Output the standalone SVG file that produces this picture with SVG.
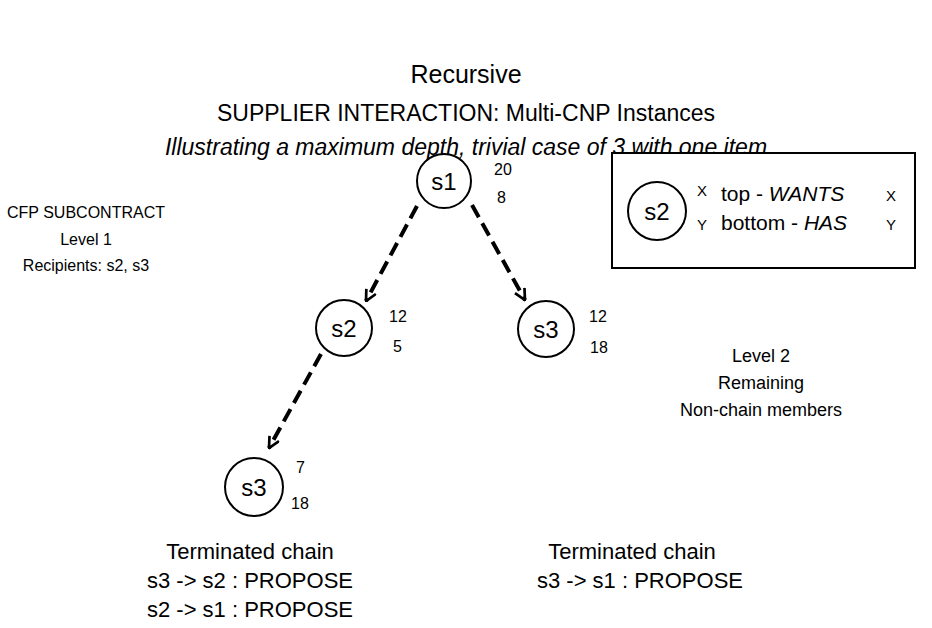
<svg xmlns="http://www.w3.org/2000/svg" width="932" height="628" viewBox="0 0 932 628">
  <style>
    text { font-family: "Liberation Sans", Arial, sans-serif; fill: #000; }
    .title { font-size: 25px; text-anchor: middle; }
    .sub { font-size: 23px; text-anchor: middle; }
    .it { font-style: italic; }
    .note { font-size: 16px; text-anchor: middle; }
    .note2 { font-size: 18px; text-anchor: middle; }
    .chain { font-size: 22px; text-anchor: middle; }
    .node circle { fill: none; stroke: #000; stroke-width: 2; }
    .node .name { font-size: 24px; text-anchor: middle; }
    .node .val { font-size: 16px; }
    .edge { fill: none; stroke: #000; stroke-width: 4; stroke-dasharray: 14 7; }
  </style>
  <defs>
    <marker id="arrow" viewBox="0 0 12 12" refX="11" refY="6" markerWidth="13" markerHeight="13" markerUnits="userSpaceOnUse" orient="auto">
      <path d="M1,1 L11,6 L1,11" fill="none" stroke="#000" stroke-width="2.5"/>
    </marker>
  </defs>

  <!-- headings -->
  <text class="title" x="466" y="83">Recursive</text>
  <text class="sub" x="466" y="121">SUPPLIER INTERACTION: Multi-CNP Instances</text>
  <text class="sub it" x="466" y="155">Illustrating a maximum depth, trivial case of 3 with one item</text>

  <!-- side notes -->
  <text class="note" x="86" y="218">CFP SUBCONTRACT</text>
  <text class="note" x="86" y="245">Level 1</text>
  <text class="note" x="86" y="271">Recipients: s2, s3</text>

  <text class="note2" x="761" y="362">Level 2</text>
  <text class="note2" x="761" y="389">Remaining</text>
  <text class="note2" x="761" y="416">Non-chain members</text>

  <!-- legend -->
  <g id="legend">
    <rect x="612" y="153" width="303" height="115" fill="#fff" stroke="#000" stroke-width="2"/>
    <g class="node">
      <circle cx="657" cy="211" r="29"/>
      <text class="name" x="657" y="220">s2</text>
    </g>
    <text x="697" y="196" font-size="15">X</text>
    <text x="721" y="201" font-size="21">top -  <tspan class="it">WANTS</tspan></text>
    <text x="886" y="201" font-size="15">X</text>
    <text x="697" y="230" font-size="15">Y</text>
    <text x="721" y="230" font-size="21">bottom -  <tspan class="it">HAS</tspan></text>
    <text x="886" y="230" font-size="15">Y</text>
  </g>

  <!-- connectors -->
  <g id="connectors">
    <path class="edge" d="M417,206 L366,301" marker-end="url(#arrow)"/>
    <path class="edge" d="M472,205 L525,300" marker-end="url(#arrow)"/>
    <path class="edge" d="M321,354 L269,448" marker-end="url(#arrow)"/>
  </g>

  <!-- nodes -->
  <g id="s1" class="node">
    <circle cx="444" cy="181" r="27"/>
    <text class="name" x="444" y="190">s1</text>
    <text class="val" x="494" y="175">20</text>
    <text class="val" x="497" y="203">8</text>
  </g>
  <g id="s2" class="node">
    <circle cx="344" cy="328" r="28"/>
    <text class="name" x="344" y="337">s2</text>
    <text class="val" x="389" y="322">12</text>
    <text class="val" x="393" y="352">5</text>
  </g>
  <g id="s3a" class="node">
    <circle cx="546" cy="329" r="28"/>
    <text class="name" x="546" y="338">s3</text>
    <text class="val" x="589" y="322">12</text>
    <text class="val" x="590" y="353">18</text>
  </g>
  <g id="s3b" class="node">
    <circle cx="254" cy="487" r="29"/>
    <text class="name" x="254" y="496">s3</text>
    <text class="val" x="296" y="473">7</text>
    <text class="val" x="291" y="509">18</text>
  </g>

  <!-- outcomes -->
  <text class="chain" x="250" y="559">Terminated chain</text>
  <text class="chain" x="250" y="588">s3 -&gt; s2 : PROPOSE</text>
  <text class="chain" x="250" y="617">s2 -&gt; s1 : PROPOSE</text>
  <text class="chain" x="632" y="559">Terminated chain</text>
  <text class="chain" x="640" y="588">s3 -&gt; s1 : PROPOSE</text>
</svg>
